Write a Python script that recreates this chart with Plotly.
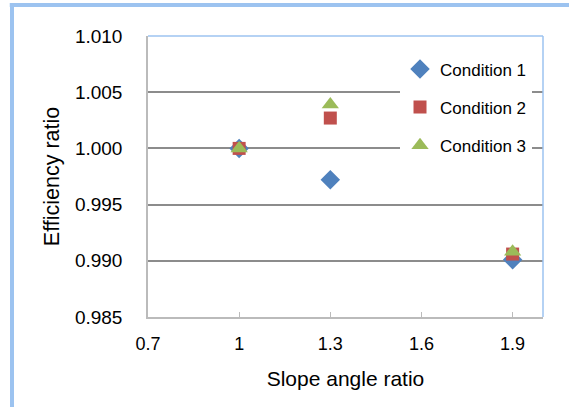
import plotly.graph_objects as go

slope_ratio = [1.0, 1.3, 1.9]
cond1 = [1.0000, 0.9972, 0.9901]
cond2 = [1.0000, 1.0027, 0.9906]
cond3 = [1.0000, 1.0039, 0.9908]
series_names = ["Condition 1", "Condition 2", "Condition 3"]
x_ticks = [0.7, 1.0, 1.3, 1.6, 1.9]
x_tick_labels = ["0.7", "1", "1.3", "1.6", "1.9"]
y_ticks = [0.985, 0.990, 0.995, 1.000, 1.005, 1.010]
y_tick_labels = ["0.985", "0.990", "0.995", "1.000", "1.005", "1.010"]

FONT = "Liberation Sans, Arial, sans-serif"
styles = [
    dict(symbol="diamond", color="#4F81BD", size=15),
    dict(symbol="square", color="#C0504D", size=13),
    dict(symbol="triangle-up", color="#9BBB59", size=15),
]

fig = go.Figure()
for name, vals, st, g in zip(series_names, [cond1, cond2, cond3], styles, ["a", "b", "c"]):
    fig.add_trace(go.Scatter(
        x=slope_ratio, y=vals, mode="markers", name=name, legendgroup=g,
        marker=dict(symbol=st["symbol"], color=st["color"], size=st["size"], line=dict(width=0)),
    ))

fig.update_layout(
    width=569, height=407,
    margin=dict(l=148, r=26, t=36, b=90),
    paper_bgcolor="white", plot_bgcolor="white",
    font=dict(family=FONT, size=17, color="#000"),
    showlegend=True,
    legend=dict(x=0.638, y=0.945, xanchor="left", yanchor="top",
                bgcolor="white", borderwidth=0, tracegroupgap=13,
                font=dict(size=17), itemwidth=30),
    xaxis=dict(range=[0.7, 2.0], tickvals=x_ticks, ticktext=x_tick_labels,
               showgrid=False, zeroline=False, showline=True, linecolor="#BBBBBB", linewidth=1.5,
               ticks="inside", ticklen=5, tickcolor="#BBBBBB",
               tickfont=dict(size=18), ticklabelstandoff=10,
               title=dict(text="Slope angle ratio", font=dict(size=21), standoff=18)),
    yaxis=dict(range=[0.985, 1.010], tickvals=y_ticks, ticktext=y_tick_labels,
               showgrid=True, gridcolor="#8C8C8C", gridwidth=1.5, zeroline=False,
               showline=True, linecolor="#BBBBBB", linewidth=1.5, ticks="",
               tickfont=dict(size=19), ticklabelstandoff=20,
               title=dict(text="Efficiency ratio", font=dict(size=21.5), standoff=9)),
)

# decorative light-blue frame lines
blue = "#9CC3F0"
fig.add_shape(type="line", xref="paper", yref="paper", x0=-0.35, x1=1.1, y0=1.1103, y1=1.1103,
              line=dict(color=blue, width=4))
fig.add_shape(type="line", xref="paper", yref="paper", x0=-0.3443, x1=-0.3443, y0=1.1103, y1=-0.33,
              line=dict(color=blue, width=4))
fig.add_shape(type="line", xref="paper", yref="paper", x0=1, x1=1, y0=0, y1=1,
              line=dict(color=blue, width=1.5))
fig.add_shape(type="line", xref="paper", yref="paper", x0=0, x1=1, y0=1, y1=1,
              line=dict(color=blue, width=1.5))

fig.write_html("out.html", config={"displayModeBar": False},
               post_script="document.body.style.margin='0';document.body.style.overflow='hidden';")
